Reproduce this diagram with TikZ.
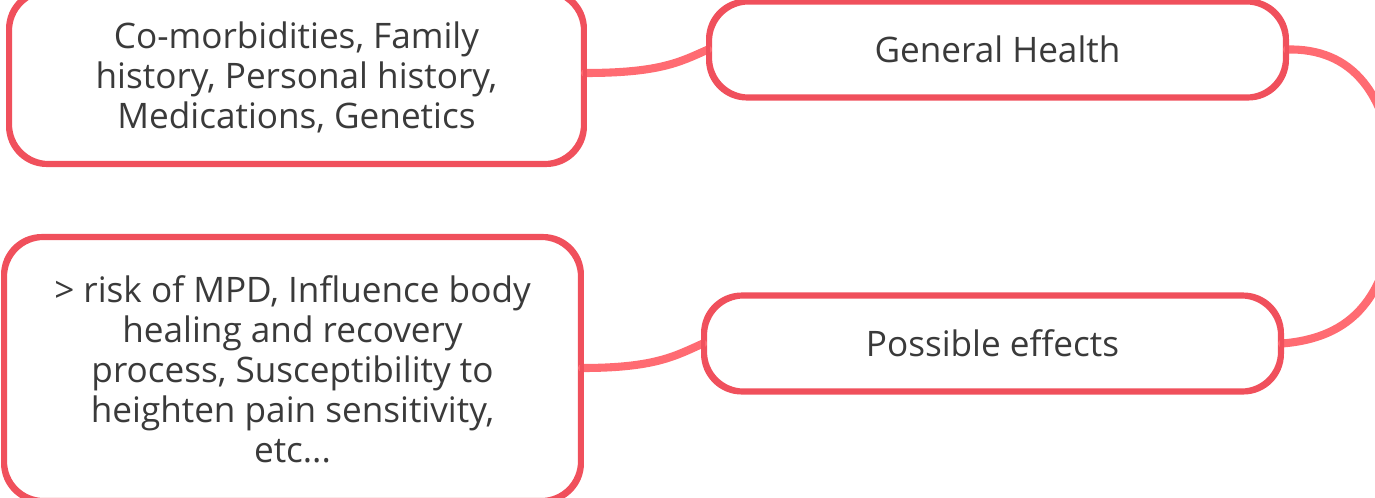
\documentclass[tikz,border=0pt]{standalone}
\usepackage{fontspec}
\setmainfont{Open Sans}
\usepackage{tikz}
\usetikzlibrary{calc}
\definecolor{boxred}{HTML}{F0505C}
\definecolor{linkred}{HTML}{FF6B72}
\definecolor{txtgray}{HTML}{3A3A3A}
\tikzstyle{topic}=[draw=boxred,line width=2.3pt,rounded corners=22pt,fill=white,text=txtgray,align=center,font=\fontsize{20}{22.8}\selectfont,inner sep=0pt]
\tikzstyle{link}=[draw=linkred,line width=4.6pt,line cap=round]

\begin{document}
\begin{tikzpicture}[
  x=0.02cm, y=-0.02cm,
  detail/.style={topic,minimum width=11.46cm},
  main/.style={topic,minimum width=11.5cm,minimum height=1.88cm},
]
  \useasboundingbox (0,0) rectangle (1375,497);
  \node[main] (gh) at (997.5,49.5) {General Health};
  \node[main] (pe) at (992.5,343.5) {Possible effects};
  \node[detail,minimum height=3.42cm] (hist) at (296.5,77.5)
    {Co-morbidities, Family\\history, Personal history,\\Medications, Genetics};
  \node[detail,minimum width=11.5cm,minimum height=5.24cm] (risk) at (292.5,369)
    {> risk of MPD, Influence body\\healing and recovery\\process, Susceptibility to\\heighten pain sensitivity,\\etc...};

  % connectors
  \draw[link] (hist.east |- 0,73) .. controls (660,73) and (680,62) .. (gh.west);
  \draw[link] (risk.east |- 0,368) .. controls (655,368) and (675,356) .. (pe.west);
  \draw[link] (gh.east) .. controls (1350,48) and (1392,90) .. (1396,195)
              .. controls (1392,300) and (1350,338) .. (pe.east);
  % redraw borders over the link ends
  \draw[boxred,line width=2.3pt,rounded corners=22pt] (gh.south west) rectangle (gh.north east);
  \draw[boxred,line width=2.3pt,rounded corners=22pt] (pe.south west) rectangle (pe.north east);
  \draw[boxred,line width=2.3pt,rounded corners=22pt] (hist.south west) rectangle (hist.north east);
  \draw[boxred,line width=2.3pt,rounded corners=22pt] (risk.south west) rectangle (risk.north east);
\end{tikzpicture}
\end{document}
